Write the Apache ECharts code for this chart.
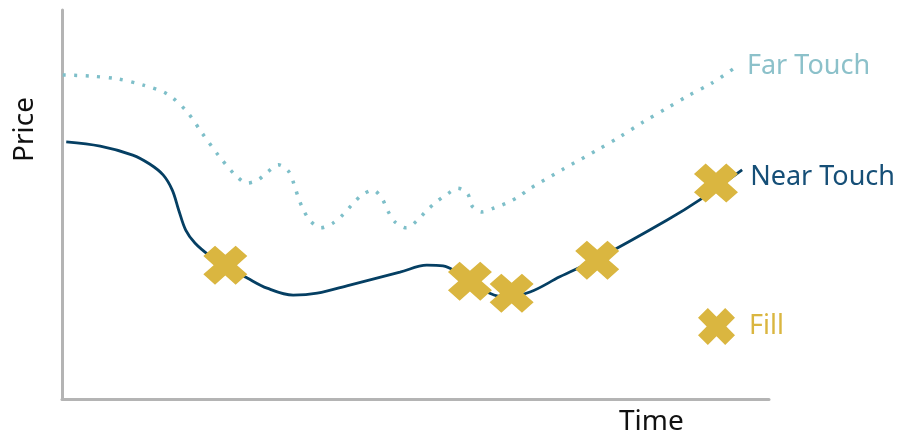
<!DOCTYPE html>
<html>
<head>
<meta charset="utf-8">
<script src="https://cdn.jsdelivr.net/npm/echarts@6/dist/echarts.min.js"></script>
<style>
  html, body { margin: 0; padding: 0; background: #fff; }
  #chart { width: 901px; height: 441px; }
</style>
</head>
<body>
<div id="chart"></div>
<script>
// time / price readings (arbitrary units, 0-100)
const nearTouch = [
  [0.6, 66.1], [5.4, 65.0], [10.0, 62.7], [12.4, 60.4], [14.3, 57.6], [15.6, 53.7],
  [16.5, 48.6], [17.5, 43.4], [18.8, 40.1], [20.9, 36.8], [23.1, 34.2], [26.2, 31.1],
  [29.0, 28.5], [32.7, 26.7], [36.1, 27.2], [40.7, 29.3], [47.8, 32.6], [51.6, 34.4],
  [53.9, 34.2], [55.6, 32.9], [57.7, 30.3], [60.5, 27.2], [62.7, 26.2], [66.2, 27.5],
  [70.4, 31.4], [75.7, 36.0], [85.6, 46.0], [90.2, 51.2], [96.2, 58.9]
]
const farTouch = [
  [0.1, 83.3], [4.0, 83.0], [7.8, 82.3], [11.5, 80.7], [14.9, 78.4], [17.7, 73.8],
  [19.8, 68.4], [22.1, 62.7], [24.5, 57.6], [26.2, 55.5], [27.7, 56.3], [29.1, 58.4],
  [30.6, 60.2], [32.1, 58.4], [32.8, 55.3], [33.4, 51.9], [34.1, 48.8], [35.1, 45.8],
  [36.6, 44.0], [38.3, 45.2], [39.7, 47.3], [41.0, 49.9], [42.4, 52.4], [44.0, 53.7],
  [45.3, 51.4], [46.1, 48.3], [47.1, 45.5], [48.7, 44.0], [50.2, 45.8], [51.5, 48.3],
  [52.9, 50.6], [54.5, 52.7], [56.0, 54.2], [57.4, 52.7], [58.0, 49.6], [59.4, 48.1],
  [61.1, 49.1], [62.9, 50.4], [64.5, 51.9], [66.1, 54.0], [70.9, 59.1], [75.7, 64.0],
  [78.9, 67.4], [82.2, 71.2], [85.6, 74.8], [88.5, 77.9], [91.9, 81.2], [94.9, 84.8]
]
const fills = [
  [23.1, 34.4], [57.7, 30.3], [63.6, 27.2], [75.7, 35.7], [92.5, 55.5]
]

const chart = echarts.init(document.getElementById('chart'))
const gold = '#dab640'
// thick X, a plus sign turned by 45 degrees
const crossPath = 'path://M141,0L192,51L147,96L192,141L141,192L96,147L51,192L0,141L45,96L0,51L51,0L96,45Z'
const font = 'Noto Sans'

const option = {
  animation: false,
  grid: { left: 62, right: 132, top: 10, bottom: 42 },
  xAxis: {
    type: 'value',
    min: 0,
    max: 100,
    axisLine: { show: true, lineStyle: { color: '#b4b4b4', width: 3 } },
    axisTick: { show: false },
    axisLabel: { show: false },
    splitLine: { show: false }
  },
  yAxis: {
    type: 'value',
    min: 0,
    max: 100,
    axisLine: { show: true, lineStyle: { color: '#b4b4b4', width: 3 } },
    axisTick: { show: false },
    axisLabel: { show: false },
    splitLine: { show: false }
  },
  legend: {
    data: ['Fill'],
    left: 698,
    top: 308,
    padding: 0,
    itemWidth: 39,
    itemHeight: 37,
    icon: crossPath,
    textStyle: { color: gold, fontSize: 27, fontFamily: font, padding: [0, 0, 0, 8] }
  },
  graphic: [
    {
      type: 'text',
      left: 619,
      top: 408,
      style: { text: 'Time', fill: '#111', font: '28px "Noto Sans"' }
    },
    {
      type: 'text',
      x: 11,
      y: 162,
      rotation: Math.PI / 2,
      style: { text: 'Price', fill: '#111', font: '28px "Noto Sans"' }
    }
  ],
  series: [
    {
      name: 'Far Touch',
      type: 'line',
      data: farTouch,
      smooth: 0.3,
      symbol: 'none',
      lineStyle: { color: '#7ebfc9', width: 3.5, type: [3, 8.5] },
      endLabel: {
        show: true,
        formatter: 'Far Touch',
        color: '#8cc1ca',
        fontSize: 27,
        fontFamily: font,
        distance: 14,
        offset: [0, -3]
      }
    },
    {
      name: 'Near Touch',
      type: 'line',
      data: nearTouch,
      smooth: 0.35,
      symbol: 'none',
      lineStyle: { color: '#053f63', width: 2.8 },
      endLabel: {
        show: true,
        formatter: 'Near Touch',
        color: '#164f77',
        fontSize: 27,
        fontFamily: font,
        distance: 8,
        offset: [0, 7]
      }
    },
    {
      name: 'Fill',
      type: 'scatter',
      data: fills,
      symbol: crossPath,
      symbolSize: [44, 39],
      itemStyle: { color: gold, opacity: 1 },
      z: 5
    }
  ]
}
chart.setOption(option)
</script>
</body>
</html>
